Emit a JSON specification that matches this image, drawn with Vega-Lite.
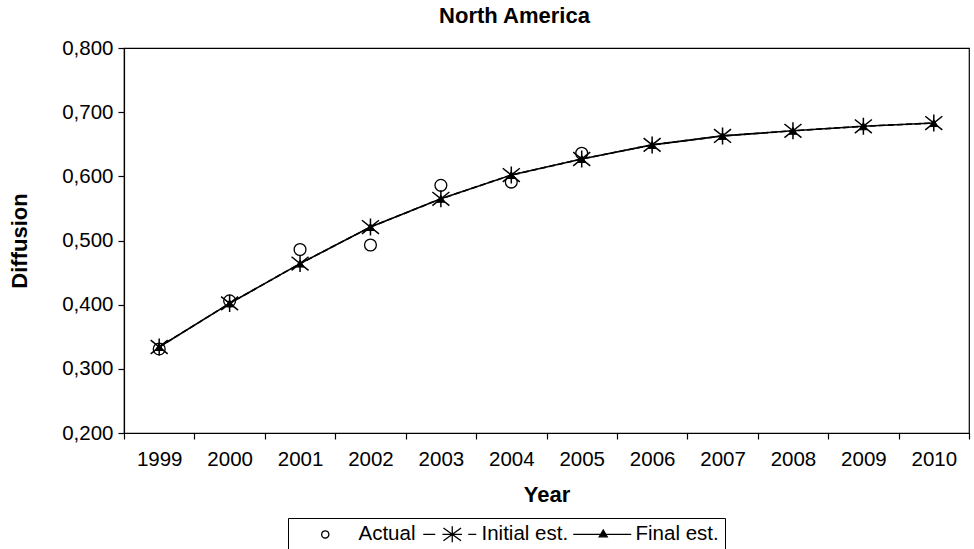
{
  "$schema": "https://vega.github.io/schema/vega-lite/v6.json",
  "width": 845,
  "height": 385,
  "autosize": {"type": "none"},
  "padding": {"left": 124, "top": 48, "right": 5, "bottom": 116},
  "background": "white",
  "title": {
    "text": "North America",
    "font": "Liberation Sans",
    "fontSize": 22,
    "fontWeight": "bold",
    "color": "black",
    "anchor": "middle",
    "dx": -32,
    "offset": 10
  },
  "data": {
    "values": [
      {"year": "1999", "series": "Actual", "value": 0.331},
      {"year": "2000", "series": "Actual", "value": 0.406},
      {"year": "2001", "series": "Actual", "value": 0.486},
      {"year": "2002", "series": "Actual", "value": 0.493},
      {"year": "2003", "series": "Actual", "value": 0.586},
      {"year": "2004", "series": "Actual", "value": 0.591},
      {"year": "2005", "series": "Actual", "value": 0.636},
      {"year": "1999", "series": "Initial est.", "value": 0.334},
      {"year": "2000", "series": "Initial est.", "value": 0.402},
      {"year": "2001", "series": "Initial est.", "value": 0.464},
      {"year": "2002", "series": "Initial est.", "value": 0.521},
      {"year": "2003", "series": "Initial est.", "value": 0.565},
      {"year": "2004", "series": "Initial est.", "value": 0.602},
      {"year": "2005", "series": "Initial est.", "value": 0.627},
      {"year": "2006", "series": "Initial est.", "value": 0.649},
      {"year": "2007", "series": "Initial est.", "value": 0.663},
      {"year": "2008", "series": "Initial est.", "value": 0.671},
      {"year": "2009", "series": "Initial est.", "value": 0.678},
      {"year": "2010", "series": "Initial est.", "value": 0.683},
      {"year": "1999", "series": "Final est.", "value": 0.334},
      {"year": "2000", "series": "Final est.", "value": 0.402},
      {"year": "2001", "series": "Final est.", "value": 0.464},
      {"year": "2002", "series": "Final est.", "value": 0.521},
      {"year": "2003", "series": "Final est.", "value": 0.565},
      {"year": "2004", "series": "Final est.", "value": 0.602},
      {"year": "2005", "series": "Final est.", "value": 0.627},
      {"year": "2006", "series": "Final est.", "value": 0.649},
      {"year": "2007", "series": "Final est.", "value": 0.663},
      {"year": "2008", "series": "Final est.", "value": 0.671},
      {"year": "2009", "series": "Final est.", "value": 0.678},
      {"year": "2010", "series": "Final est.", "value": 0.683}
    ]
  },
  "encoding": {
    "x": {
      "field": "year",
      "type": "ordinal",
      "sort": null,
      "scale": {"type": "band", "paddingInner": 0, "paddingOuter": 0},
      "axis": {
        "title": "Year",
        "titleFontSize": 22,
        "titleFontWeight": "bold",
        "titlePadding": 15,
        "labelAngle": 0,
        "labelFontSize": 20.5,
        "labelPadding": 10,
        "tickBand": "extent",
        "tickSize": 6,
        "grid": false
      }
    },
    "y": {
      "field": "value",
      "type": "quantitative",
      "scale": {"domain": [0.2, 0.8], "nice": false, "zero": false},
      "axis": {
        "title": "Diffusion",
        "titleFontSize": 22,
        "titleFontWeight": "bold",
        "titlePadding": 30,
        "values": [0.2, 0.3, 0.4, 0.5, 0.6, 0.7, 0.8],
        "labelExpr": "replace(format(datum.value, '.3f'), '.', ',')",
        "labelFontSize": 20.5,
        "labelPadding": 5,
        "tickSize": 6,
        "grid": false
      }
    }
  },
  "layer": [
    {
      "transform": [{"filter": "datum.series === 'Initial est.'"}],
      "mark": {"type": "line", "color": "black", "strokeWidth": 1.6, "strokeDash": [6, 3]}
    },
    {
      "transform": [{"filter": "datum.series === 'Final est.'"}],
      "mark": {"type": "line", "color": "black", "strokeWidth": 1.6}
    },
    {
      "transform": [{"filter": "datum.series === 'Actual'"}],
      "mark": {"type": "point", "shape": "circle", "filled": false, "stroke": "black", "strokeWidth": 1.3, "size": 140, "opacity": 1}
    },
    {
      "transform": [{"filter": "datum.series === 'Final est.'"}],
      "mark": {"type": "point", "shape": "triangle-up", "filled": true, "fill": "black", "stroke": "black", "strokeWidth": 1, "size": 65, "opacity": 1}
    },
    {
      "transform": [{"filter": "datum.series === 'Initial est.'"}],
      "mark": {"type": "point", "shape": "M-1,-0.8L1,0.8M-1,0.8L1,-0.8M0,-1L0,1", "filled": false, "stroke": "black", "strokeWidth": 1.5, "size": 290, "opacity": 1}
    },
    {
      "transform": [{"filter": "false"}],
      "mark": {"type": "point", "filled": true, "strokeWidth": 1.3, "size": 256, "opacity": 1},
      "encoding": {
        "shape": {
          "field": "series",
          "type": "nominal",
          "title": null,
          "scale": {
            "domain": ["Actual", "Initial est.", "Final est."],
            "range": [
              "M-0.575,0A0.45,0.45 0 1 0 0.325,0A0.45,0.45 0 1 0 -0.575,0Z",
              "M-3.25,0H-1.75M-0.725,-0.8L1.475,0.8M-0.725,0.8L1.475,-0.8M0.375,-1L0.375,1M-0.85,0H1.6M2.375,0H3.375",
              "M-3.75,0H3.5M-0.5,0.3L0.5,0.3L0,-0.55Z"
            ]
          },
          "legend": {
            "orient": "none",
            "legendX": 164,
            "legendY": 470,
            "direction": "horizontal",
            "columns": 3,
            "padding": 6,
            "columnPadding": 1,
            "strokeColor": "black",
            "symbolSize": 256,
            "symbolOffset": 22,
            "symbolStrokeWidth": 1.3,
            "labelOffset": 22,
            "labelFont": "Liberation Sans",
            "labelFontSize": 20.5,
            "labelColor": "black"
          }
        },
        "fill": {
          "field": "series",
          "type": "nominal",
          "title": null,
          "scale": {
            "domain": ["Actual", "Initial est.", "Final est."],
            "range": ["white", "black", "black"]
          }
        },
        "stroke": {
          "field": "series",
          "type": "nominal",
          "title": null,
          "scale": {
            "domain": ["Actual", "Initial est.", "Final est."],
            "range": ["black", "black", "black"]
          }
        }
      }
    }
  ],
  "config": {
    "font": "Liberation Sans",
    "view": {"stroke": "black", "strokeWidth": 1.2},
    "axis": {
      "domainColor": "black",
      "domainWidth": 1.2,
      "tickColor": "black",
      "tickWidth": 1.2,
      "labelColor": "black",
      "titleColor": "black",
      "labelFont": "Liberation Sans",
      "titleFont": "Liberation Sans"
    }
  }
}
